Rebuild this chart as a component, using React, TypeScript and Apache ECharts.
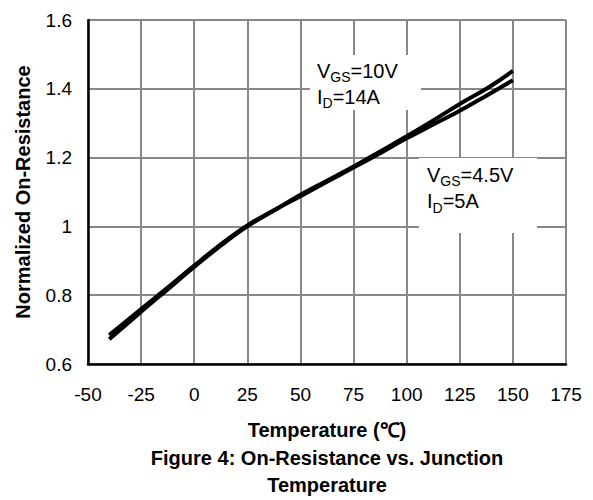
import React, { useEffect, useRef } from "react";
import * as echarts from "echarts";

const temps = [-40, -25, -12.5, 0, 12.5, 25, 37.5, 50, 62.5, 75, 87.5, 100, 112.5, 125, 137.5, 150];
const vgs10 = [0.672, 0.752, 0.817, 0.882, 0.944, 1.0, 1.046, 1.092, 1.133, 1.174, 1.218, 1.262, 1.308, 1.356, 1.4, 1.452];
const vgs45 = [0.684, 0.76, 0.822, 0.886, 0.948, 1.003, 1.047, 1.088, 1.13, 1.171, 1.213, 1.256, 1.296, 1.336, 1.38, 1.425];
const seriesNames = ["VGS=10V ID=14A", "VGS=4.5V ID=5A"];
const xName = "Temperature (℃)";
const yName = "Normalized On-Resistance";
const caption1 = "Figure 4: On-Resistance vs. Junction";
const caption2 = "Temperature";

const FONT = "'Liberation Sans', Arial, sans-serif";

export default function App() {
  const ref = useRef<HTMLDivElement>(null);
  useEffect(() => {
    if (!ref.current) return;
    const chart = echarts.init(ref.current, undefined, { renderer: "svg" });
    const mk = (vals: number[]) => temps.map((t, i) => [t, vals[i]]);
    const rich = (lh: number) => ({
      a: { fontSize: 20, fontFamily: FONT, color: "#000", lineHeight: lh },
      s: { fontSize: 14, fontFamily: FONT, color: "#000", lineHeight: 16, verticalAlign: "bottom" },
    });
    chart.setOption({
      animation: false,
      backgroundColor: "#fff",
      grid: { left: 88, top: 20, right: 27, bottom: 136, containLabel: false },
      xAxis: {
        type: "value",
        min: -50,
        max: 175,
        interval: 25,
        name: xName,
        nameLocation: "middle",
        nameGap: 56,
        nameTextStyle: { fontFamily: FONT, fontSize: 20, fontWeight: "bold", color: "#000", verticalAlign: "top" },
        axisLine: { show: true, onZero: false, lineStyle: { color: "#000", width: 2.5 } },
        axisTick: { show: false },
        axisLabel: { fontFamily: FONT, fontSize: 19, color: "#000", margin: 21 },
        splitLine: { show: true, lineStyle: { color: "#888", width: 2 } },
      },
      yAxis: {
        type: "value",
        min: 0.6,
        max: 1.6,
        interval: 0.2,
        name: yName,
        nameLocation: "middle",
        nameGap: 55,
        nameRotate: 90,
        nameTextStyle: { fontFamily: FONT, fontSize: 20, fontWeight: "bold", color: "#000" },
        axisLine: { show: true, onZero: false, lineStyle: { color: "#000", width: 2.5 } },
        axisTick: { show: false },
        axisLabel: {
          fontFamily: FONT,
          fontSize: 19,
          color: "#000",
          margin: 16,
          formatter: (v: number) => String(Math.round(v * 10) / 10),
        },
        splitLine: { show: true, lineStyle: { color: "#888", width: 2 } },
      },
      series: [
        {
          name: seriesNames[0],
          type: "line",
          data: mk(vgs10),
          smooth: 0.4,
          showSymbol: false,
          lineStyle: { color: "#000", width: 4 },
          z: 3,
        },
        {
          name: seriesNames[1],
          type: "line",
          data: mk(vgs45),
          smooth: 0.4,
          showSymbol: false,
          lineStyle: { color: "#000", width: 4 },
          z: 3,
        },
      ],
      graphic: [
        { type: "rect", z: 1, shape: { x: 310, y: 55, width: 111, height: 55 }, style: { fill: "#fff" } },
        { type: "rect", z: 1, shape: { x: 419, y: 158, width: 118, height: 75 }, style: { fill: "#fff" } },
        {
          type: "text",
          z: 5,
          x: 317,
          y: 58,
          style: {
            text: "{a|V}{s|GS}{a|=10V}\n{a|I}{s|D}{a|=14A}",
            rich: rich(26) as any,
            verticalAlign: "top",
            align: "left",
          },
        },
        {
          type: "text",
          z: 5,
          x: 427,
          y: 161.5,
          style: {
            text: "{a|V}{s|GS}{a|=4.5V}\n{a|I}{s|D}{a|=5A}",
            rich: rich(26.5) as any,
            verticalAlign: "top",
            align: "left",
          },
        },
        {
          type: "text",
          x: 327,
          y: 458,
          style: {
            text: caption1,
            fontFamily: FONT,
            fontSize: 20,
            fontWeight: "bold",
            fill: "#000",
            align: "center",
            verticalAlign: "middle",
          },
        },
        {
          type: "text",
          x: 327,
          y: 485,
          style: {
            text: caption2,
            fontFamily: FONT,
            fontSize: 20,
            fontWeight: "bold",
            fill: "#000",
            align: "center",
            verticalAlign: "middle",
          },
        },
      ],
    });
    return () => chart.dispose();
  }, []);
  return <div ref={ref} style={{ position: "fixed", left: 0, top: 0, width: 593, height: 500 }} />;
}
